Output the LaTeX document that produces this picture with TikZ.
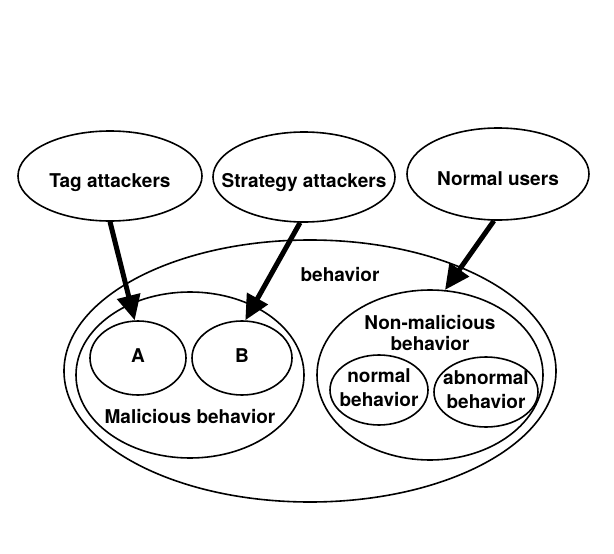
\documentclass[tikz,border=0pt]{standalone}
\usepackage{fontspec}
\setmainfont{TeX Gyre Heros}
\usetikzlibrary{shapes.geometric}
\usetikzlibrary{arrows.meta}
\newcommand{\inside}[1]{\makebox[0pt]{\begin{tabular}{@{}c@{}}#1\end{tabular}}}
\newcommand{\lowinside}[2][-11pt]{\raisebox{#1}[0pt][0pt]{\inside{#2}}}
\tikzset{every set/.style = {ellipse, draw, line width=1.6pt, inner sep=0pt},
every tag/.style = {font=\bfseries\fontsize{19}{24}\selectfont},
every link/.style = {line width=5pt, -{Triangle[length=25pt,width=23pt]}}}

\begin{document}
\begin{tikzpicture}[x=1pt,y=-1pt]
  \useasboundingbox (0,0) rectangle (614,554);
  % the three kinds of users
  \node[every set, every tag, minimum width=184pt, minimum height=90pt] (tag) at (110,176) {\lowinside{Tag attackers}};
  \node[every set, every tag, minimum width=182pt, minimum height=90pt] (strat) at (304,177) {\lowinside[-10pt]{Strategy attackers}};
  \node[every set, every tag, minimum width=182pt, minimum height=92pt] (normu) at (498,174) {\lowinside{Normal users}};
  % behavior sets
  \node[every set, minimum width=492pt, minimum height=262pt] (beh) at (310,371) {};
  \node[every set, minimum width=228pt, minimum height=166pt] (mal) at (190,375) {};
  \node[every set, minimum width=226pt, minimum height=170pt] (nonmal) at (430,375) {};
  \node[every set, every tag, minimum width=96pt, minimum height=74pt] (a) at (138,358) {\inside{A}};
  \node[every set, every tag, minimum width=100pt, minimum height=74pt] (b) at (242,358) {\inside{B}};
  \node[every set, every tag, minimum width=98pt, minimum height=70pt] (norm) at (379,390) {\inside{normal\\behavior}};
  \node[every set, every tag, minimum width=104pt, minimum height=70pt] (abnorm) at (486,392) {\inside{abnormal\\behavior}};
  % set names
  \node[every tag] (behname) at (340,275) {behavior};
  \node[every tag] (malname) at (190,417) {Malicious behavior};
  \node[every tag, align=center, font=\bfseries\fontsize{19}{21}\selectfont] (nonmalname) at (430,333) {Non-malicious\\behavior};
  % links
  \draw[every link] (tag.south) -- (a.95);
  \draw[every link] (strat.265) -- (b.85);
  \draw[every link] (normu.265) -- (nonmal.80);
\end{tikzpicture}
\end{document}
